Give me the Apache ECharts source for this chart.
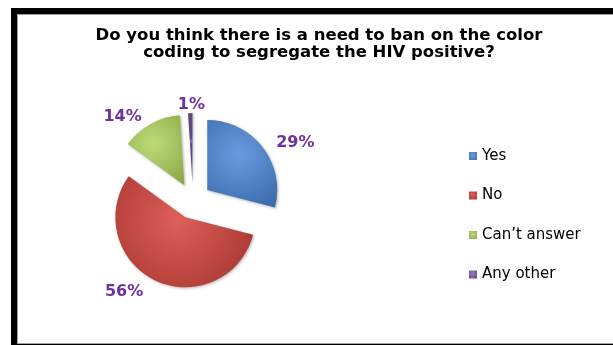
<!DOCTYPE html>
<html>
<head>
<meta charset="utf-8">
<script src="https://cdn.jsdelivr.net/npm/echarts@6/dist/echarts.min.js"></script>
<style>html,body{margin:0;padding:0;background:#fff}#c{width:613px;height:345px}</style>
</head>
<body>
<div id="c"></div>
<script>
const titleText = "Do you think there is a need to ban on the color\ncoding to segregate the HIV positive?";
const categories = ["Yes", "No", "Can\u2019t answer", "Any other"];
const values = [29, 56, 14, 1];
const labelLen = [6.5, 12.5, 8, 8];
const labelLen2 = [3.5, 2, 0, -20];
const palette = [
  ["#6a9be0", "#3d6fae"],
  ["#dd5f5a", "#a8382f"],
  ["#c0db7a", "#8aab46"],
  ["#9a7fc0", "#5f497a"]
];
function grad(c){
  return new echarts.graphic.RadialGradient(0.45, 0.4, 0.8, [
    {offset:0, color:c[0]}, {offset:1, color:c[1]}
  ]);
}
const chart = echarts.init(document.getElementById('c'), null, {renderer:'canvas'});
const font = 'DejaVu Sans';
chart.setOption({
  animation:false,
  backgroundColor:'#fff',
  graphic:[
    {type:'rect', z:-10, shape:{x:11,y:8,width:602,height:337}, style:{fill:'#000'}},
    {type:'rect', z:-9, shape:{x:17,y:14,width:596,height:330}, style:{fill:'#a0a0a0'}},
    {type:'rect', z:-8, shape:{x:18,y:15,width:595,height:328}, style:{fill:'#fff'}}
  ],
  title:{
    text:titleText,
    left:314, top:22, textAlign:'center',
    textStyle:{fontFamily:font, fontSize:16.5, fontWeight:'bold', color:'#000', lineHeight:17}
  },
  legend:{
    orient:'vertical', left:464, top:143,
    itemWidth:8, itemHeight:8, itemGap:23.5,
    icon:'rect',
    textStyle:{fontFamily:font, fontSize:15, color:'#000', lineHeight:16},
    data:categories
  },
  series:[{
    type:'pie',
    center:[193,201],
    radius:[0,70],
    startAngle:90,
    clockwise:true,
    avoidLabelOverlap:false,
    selectedMode:'multiple',
    selectedOffset:18,
    label:{show:true, position:'outside', formatter:'{d}%', fontFamily:font, fontSize:16, fontWeight:'bold', color:'#7030a0', distanceToLabelLine:5},
    labelLine:{show:false},
    emphasis:{disabled:true},
    itemStyle:{borderWidth:0, borderColor:'transparent', shadowBlur:3, shadowOffsetX:1, shadowOffsetY:1, shadowColor:'rgba(0,0,0,0.3)'},
    data:categories.map((n,i)=>({
      name:n, value:values[i], selected:true,
      itemStyle:{color:grad(palette[i]), borderWidth:0},
      select:{itemStyle:{color:grad(palette[i]), borderWidth:0}},
      labelLine:{show:false, length:labelLen[i], length2:labelLen2[i]}
    }))
  }]
});
</script>
</body>
</html>
